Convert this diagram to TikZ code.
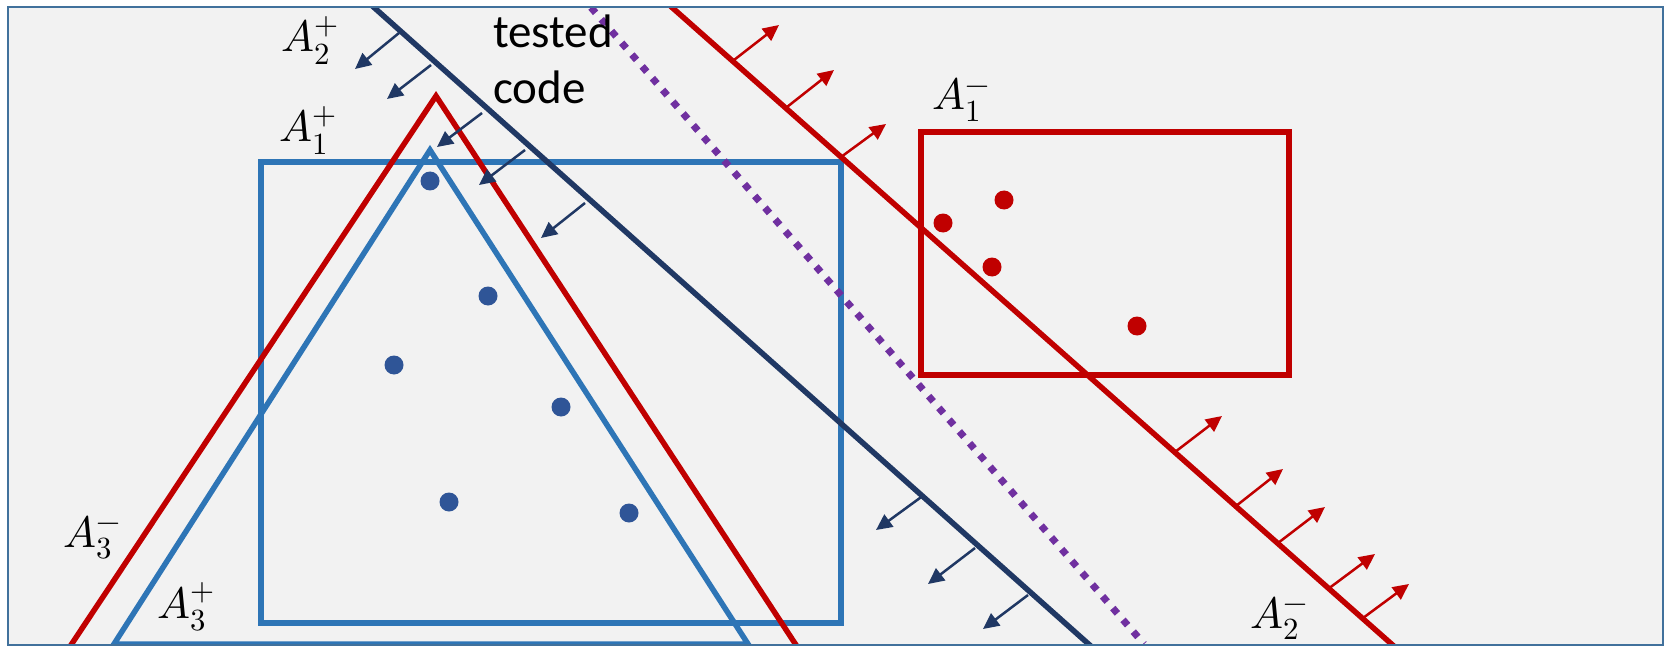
\documentclass[tikz,border=0pt]{standalone}
\usepackage{fontspec}
\usepackage{unicode-math}
\setmainfont{Carlito}
\setmathfont{Latin Modern Math}
\usetikzlibrary{arrows.meta}
\definecolor{bg}{HTML}{F2F2F2}
\definecolor{frm}{HTML}{41719C}
\definecolor{myred}{HTML}{C00000}
\definecolor{navy}{HTML}{203864}
\definecolor{myblue}{HTML}{2E75B6}
\definecolor{dotblue}{HTML}{2F5597}
\definecolor{purp}{HTML}{7030A0}
\tikzset{
  redline/.style={draw=myred,line width=5.5pt},
  navyline/.style={draw=navy,line width=5.5pt},
  blueline/.style={draw=myblue,line width=5.5pt},
  redarr/.style={draw=myred,line width=2.5pt,-{Triangle[length=16pt,width=15pt]}},
  navyarr/.style={draw=navy,line width=2.5pt,-{Triangle[length=16pt,width=15pt]}},
  bdot/.style={fill=dotblue},
  rdot/.style={fill=myred},
  lab/.style={anchor=base west,inner sep=0pt,font=\fontsize{44}{50}\selectfont},
}
\begin{document}
\begin{tikzpicture}[x=1pt,y=-1pt]
\useasboundingbox (0,0) rectangle (1669,647);
\fill[white] (0,0) rectangle (1669,647);
\fill[bg] (7.5,7.5) rectangle (1663,645);
\begin{scope}
\clip (7.5,7.5) rectangle (1663,645);
% blue rectangle
\draw[blueline] (261,162) rectangle (841,623);
% blue triangle
\draw[blueline,line join=miter] (114,644) -- (430,150) -- (748,644) -- cycle;
% red wedge
\draw[redline] (69,648) -- (436,96) -- (798,648);
% red rectangle
\draw[redline] (921,132) rectangle (1289,375);
% navy line
\draw[navyline] (369,3) -- (1093,648);
% purple dotted
\draw[draw=purp,line width=7pt,dash pattern=on 7pt off 8.6pt] (591,7.5) -- (1144,644);
% red line A2-
\draw[redline] (667,3) -- (1396,648);
% navy arrows
\coordinate (n1a) at (399,33); \coordinate (n1b) at (355,69);
\coordinate (n2a) at (431,65); \coordinate (n2b) at (387,99);
\coordinate (n3a) at (482,113); \coordinate (n3b) at (437,147);
\coordinate (n4a) at (525,150); \coordinate (n4b) at (479,185);
\coordinate (n5a) at (585,203); \coordinate (n5b) at (541,238);
\coordinate (n6a) at (924,495); \coordinate (n6b) at (876,530);
\coordinate (n7a) at (975,548); \coordinate (n7b) at (928,584);
\coordinate (n8a) at (1028,595); \coordinate (n8b) at (983,629);
\foreach \i in {1,...,8} \draw[navyarr] (n\i a) -- (n\i b);
% red arrows
\coordinate (r1a) at (734,60); \coordinate (r1b) at (779,25);
\coordinate (r2a) at (787,107); \coordinate (r2b) at (834,70);
\coordinate (r3a) at (841,157); \coordinate (r3b) at (886,124);
\coordinate (r4a) at (1175,452); \coordinate (r4b) at (1222,416);
\coordinate (r5a) at (1236,506); \coordinate (r5b) at (1283,469);
\coordinate (r6a) at (1278,543); \coordinate (r6b) at (1325,507);
\coordinate (r7a) at (1328,589); \coordinate (r7b) at (1375,554);
\coordinate (r8a) at (1363,618); \coordinate (r8b) at (1409,584);
\foreach \i in {1,...,8} \draw[redarr] (r\i a) -- (r\i b);
\end{scope}
% blue dots
\foreach \p in {(430,181),(488,296),(394,365),(561,407),(449,502),(629,513)}
  \fill[bdot] \p circle (9.5);
% red dots
\foreach \p in {(1004,200),(943,223),(992,267),(1137,326)}
  \fill[rdot] \p circle (9.5);
% frame border
\draw[frm,line width=2pt] (7.5,7.5) rectangle (1663,645);
% labels
\node[lab] (a2p) at (281,52) {$A_2^+$};
\node[lab] (a1p) at (279,142) {$A_1^+$};
\node[lab] (a1m) at (932,110) {$A_1^-$};
\node[lab] (a3m) at (63,547) {$A_3^-$};
\node[lab] (a3p) at (157,618) {$A_3^+$};
\node[lab] (a2m) at (1250,628) {$A_2^-$};
\node[anchor=base west,inner sep=0pt,align=left,font=\fontsize{47}{56}\selectfont] (tc) at (493,104) {tested\\code};
\end{tikzpicture}
\end{document}
